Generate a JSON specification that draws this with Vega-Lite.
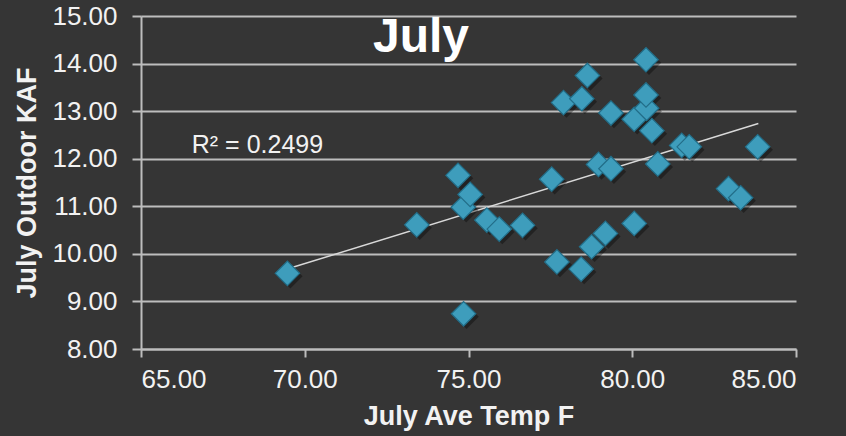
{
  "$schema": "https://vega.github.io/schema/vega-lite/v6.json",
  "autosize": "none",
  "width": 655,
  "height": 333,
  "padding": {"left": 141, "top": 16, "right": 50, "bottom": 87},
  "background": "#353535",
  "config": {
    "view": {"stroke": null},
    "font": "Liberation Sans",
    "axis": {
      "labelFont": "Liberation Sans",
      "titleFont": "Liberation Sans",
      "labelColor": "#f2f2f2",
      "titleColor": "#f2f2f2",
      "labelFontSize": 26,
      "titleFontSize": 27,
      "titleFontWeight": "bold",
      "domainColor": "#bdbdbd",
      "domainWidth": 2,
      "tickColor": "#bdbdbd",
      "tickWidth": 2,
      "tickSize": 9,
      "gridColor": "#bdbdbd",
      "gridWidth": 2,
      "gridOpacity": 1
    }
  },
  "datasets": {
    "points": [
      {"temp": 69.47, "kaf": 9.59},
      {"temp": 73.42, "kaf": 10.61},
      {"temp": 74.68, "kaf": 11.65},
      {"temp": 74.84, "kaf": 10.98},
      {"temp": 75.05, "kaf": 11.25},
      {"temp": 74.85, "kaf": 8.74},
      {"temp": 75.56, "kaf": 10.71},
      {"temp": 75.94, "kaf": 10.52},
      {"temp": 76.65, "kaf": 10.60},
      {"temp": 77.54, "kaf": 11.57},
      {"temp": 77.70, "kaf": 9.83},
      {"temp": 77.90, "kaf": 13.18},
      {"temp": 78.46, "kaf": 13.26},
      {"temp": 78.63, "kaf": 13.75},
      {"temp": 78.44, "kaf": 9.68},
      {"temp": 78.76, "kaf": 10.15},
      {"temp": 78.97, "kaf": 11.88},
      {"temp": 79.18, "kaf": 10.43},
      {"temp": 79.35, "kaf": 12.96},
      {"temp": 79.35, "kaf": 11.79},
      {"temp": 80.06, "kaf": 12.83},
      {"temp": 80.06, "kaf": 10.64},
      {"temp": 80.44, "kaf": 13.06},
      {"temp": 80.42, "kaf": 13.34},
      {"temp": 80.42, "kaf": 14.08},
      {"temp": 80.60, "kaf": 12.59},
      {"temp": 80.78, "kaf": 11.89},
      {"temp": 81.51, "kaf": 12.28},
      {"temp": 81.74, "kaf": 12.25},
      {"temp": 83.83, "kaf": 12.25},
      {"temp": 82.94, "kaf": 11.37},
      {"temp": 83.31, "kaf": 11.18}
    ],
    "trend": [
      {"temp": 69.46, "kaf": 9.68},
      {"temp": 83.85, "kaf": 12.74}
    ],
    "note": [
      {"temp": 66.55, "kaf": 12.29, "label": "R² = 0.2499"}
    ],
    "heading": [
      {"temp": 73.55, "kaf": 14.24, "label": "July"}
    ]
  },
  "encoding": {
    "x": {
      "field": "temp",
      "type": "quantitative",
      "scale": {"domain": [65, 85], "nice": false, "zero": false},
      "axis": {
        "title": "July Ave Temp F",
        "values": [65, 70, 75, 80, 85],
        "format": ".2f",
        "grid": false,
        "tickSize": 8,
        "labelPadding": 9,
        "titlePadding": 11
      }
    },
    "y": {
      "field": "kaf",
      "type": "quantitative",
      "scale": {"domain": [8, 15], "nice": false, "zero": false},
      "axis": {
        "title": "July Outdoor KAF",
        "values": [8, 9, 10, 11, 12, 13, 14, 15],
        "format": ".2f",
        "grid": true,
        "labelPadding": 15,
        "titlePadding": 10
      }
    }
  },
  "layer": [
    {
      "data": {"name": "trend"},
      "mark": {"type": "line", "color": "#d9d9d9", "strokeWidth": 1.5}
    },
    {
      "data": {"name": "points"},
      "mark": {
        "type": "point",
        "shape": "diamond",
        "size": 600,
        "filled": true,
        "color": "#000000",
        "opacity": 0.35,
        "xOffset": 3,
        "yOffset": 3
      }
    },
    {
      "data": {"name": "points"},
      "mark": {
        "type": "point",
        "shape": "diamond",
        "size": 600,
        "filled": true,
        "fill": "#3e9dbc",
        "stroke": "#226e89",
        "strokeWidth": 1.2,
        "opacity": 1
      }
    },
    {
      "data": {"name": "note"},
      "mark": {
        "type": "text",
        "align": "left",
        "baseline": "middle",
        "font": "Liberation Sans",
        "fontSize": 25,
        "color": "#f2f2f2"
      },
      "encoding": {"text": {"field": "label"}}
    },
    {
      "data": {"name": "heading"},
      "mark": {
        "type": "text",
        "align": "center",
        "baseline": "alphabetic",
        "font": "Liberation Sans",
        "fontSize": 48,
        "fontWeight": "bold",
        "color": "#ffffff"
      },
      "encoding": {"text": {"field": "label"}}
    }
  ]
}
